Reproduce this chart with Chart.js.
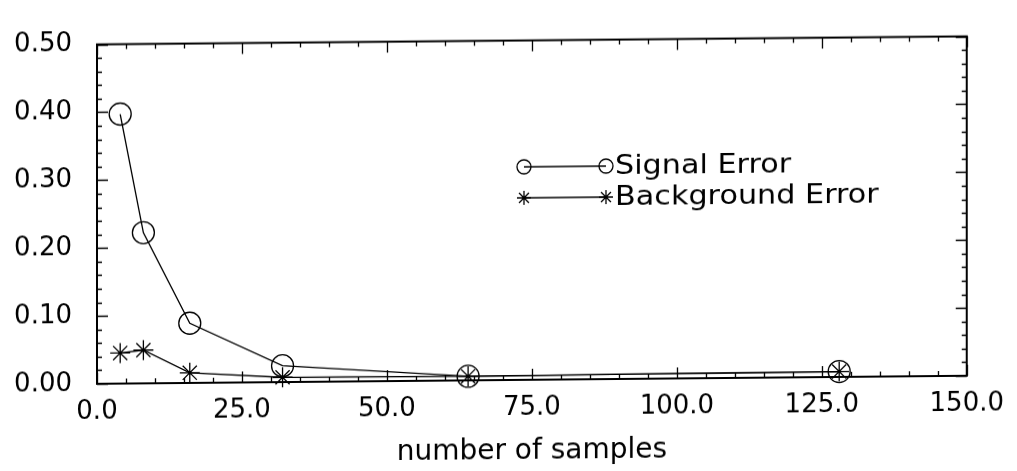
<!DOCTYPE html>
<html>
<head>
<meta charset="utf-8">
<script src="https://cdn.jsdelivr.net/npm/chart.js@4/dist/chart.umd.min.js"></script>
<style>
  html, body { margin: 0; padding: 0; background: #fff; }
  #wrap { width: 1017px; height: 471px; }
  #plot { display: block; transform: skewY(-0.53deg); transform-origin: 50% 50%; }
</style>
</head>
<body>
<div id="wrap"><canvas id="plot" width="1017" height="471"></canvas></div>
<script>
// Sample counts on the x axis
const sampleCounts = [4, 8, 16, 32, 64, 128];
// Error curves
const signalError = [0.397, 0.222, 0.088, 0.024, 0.006, 0.008];
const backgroundError = [0.045, 0.049, 0.015, 0.007, 0.006, 0.008];
// Series names
const seriesNames = ['Signal Error', 'Background Error'];
// Axis ranges and tick steps
const xRange = [0, 150];
const yRange = [0, 0.5];
const xMajorStep = 25, xMinorStep = 5;
const yMajorStep = 0.1, yMinorStep = 0.02;
const xTitle = 'number of samples';

const FONT = '"DejaVu Sans", "Liberation Sans", Arial, sans-serif';

const toPoints = (ys) => sampleCounts.map((x, i) => ({ x: x, y: ys[i] }));

// Box frame with inward ticks on all four sides
const frameTicks = {
  id: 'frameTicks',
  afterDraw(chart) {
    const { ctx, chartArea: a, scales: { x, y } } = chart;
    ctx.save();
    ctx.strokeStyle = '#000';
    ctx.lineWidth = 1.3;
    const eps = 1e-9;
    ctx.beginPath();
    for (let v = xRange[0]; v <= xRange[1] + eps; v += xMinorStep) {
      const major = Math.abs(v / xMajorStep - Math.round(v / xMajorStep)) < 1e-6;
      const len = major ? 11 : 5;
      const px = Math.round(x.getPixelForValue(v)) + 0.5;
      ctx.moveTo(px, a.bottom); ctx.lineTo(px, a.bottom - len);
      ctx.moveTo(px, a.top); ctx.lineTo(px, a.top + len);
    }
    for (let v = yRange[0]; v <= yRange[1] + eps; v += yMinorStep) {
      const major = Math.abs(v / yMajorStep - Math.round(v / yMajorStep)) < 1e-6;
      const len = major ? 11 : 5;
      const py = Math.round(y.getPixelForValue(v)) + 0.5;
      ctx.moveTo(a.left, py); ctx.lineTo(a.left + len, py);
      ctx.moveTo(a.right, py); ctx.lineTo(a.right - len, py);
    }
    ctx.stroke();
    ctx.lineWidth = 2;
    ctx.strokeRect(a.left, a.top, a.right - a.left, a.bottom - a.top);
    ctx.restore();
  }
};

// Legend: marker - line - marker, then the series name
const lineLegend = {
  id: 'lineLegend',
  afterDraw(chart) {
    const { ctx } = chart;
    const x0 = 524, x1 = 606, textX = 615;
    const rows = [167, 198];
    ctx.save();
    chart.data.datasets.forEach((ds, i) => {
      const yy = rows[i];
      ctx.strokeStyle = '#000';
      ctx.lineWidth = 1.3;
      ctx.beginPath();
      ctx.moveTo(x0, yy); ctx.lineTo(x1, yy);
      ctx.stroke();
      const opts = { pointStyle: ds.pointStyle, radius: 7, rotation: 0, borderWidth: 1.3 };
      ctx.fillStyle = 'rgba(0,0,0,0)';
      Chart.helpers.drawPoint(ctx, opts, x0, yy);
      Chart.helpers.drawPoint(ctx, opts, x1, yy);
      ctx.save();
      ctx.translate(textX, yy + 1);
      ctx.scale(1.12, 1);
      ctx.fillStyle = '#000';
      ctx.font = '27px ' + FONT;
      ctx.textBaseline = 'middle';
      ctx.textAlign = 'left';
      ctx.fillText(ds.label, 0, 0);
      ctx.restore();
    });
    ctx.restore();
  }
};

const commonDataset = {
  borderColor: '#000',
  backgroundColor: 'rgba(0,0,0,0)',
  borderWidth: 1.3,
  pointBorderColor: '#000',
  pointBackgroundColor: 'rgba(0,0,0,0)',
  pointBorderWidth: 1.3,
  pointRadius: 11,
  tension: 0,
  clip: false
};

new Chart(document.getElementById('plot'), {
  type: 'line',
  data: {
    datasets: [
      Object.assign({}, commonDataset, { label: seriesNames[0], data: toPoints(signalError), pointStyle: 'circle' }),
      Object.assign({}, commonDataset, { label: seriesNames[1], data: toPoints(backgroundError), pointStyle: 'star', pointRadius: 10 })
    ]
  },
  options: {
    responsive: false,
    devicePixelRatio: 1,
    animation: false,
    layout: { padding: { left: 0, right: 49, top: 17, bottom: 0 } },
    plugins: { legend: { display: false }, tooltip: { enabled: false } },
    scales: {
      x: {
        type: 'linear',
        min: xRange[0], max: xRange[1],
        grid: { display: false, drawTicks: false },
        border: { display: false },
        ticks: {
          stepSize: xMajorStep,
          padding: 13,
          color: '#000',
          font: { family: FONT, size: 26 },
          callback: (v) => Number(v).toFixed(1)
        },
        title: {
          display: true,
          text: xTitle,
          color: '#000',
          font: { family: FONT, size: 28 },
          padding: { top: 4, bottom: 2 }
        },
        afterFit(scale) { scale.height = 91; }
      },
      y: {
        min: yRange[0], max: yRange[1],
        grid: { display: false, drawTicks: false },
        border: { display: false },
        ticks: {
          stepSize: yMajorStep,
          padding: 25,
          color: '#000',
          font: { family: FONT, size: 26 },
          callback: (v) => Number(v).toFixed(2)
        },
        afterFit(scale) { scale.width = 97; }
      }
    }
  },
  plugins: [frameTicks, lineLegend]
});
</script>
</body>
</html>
